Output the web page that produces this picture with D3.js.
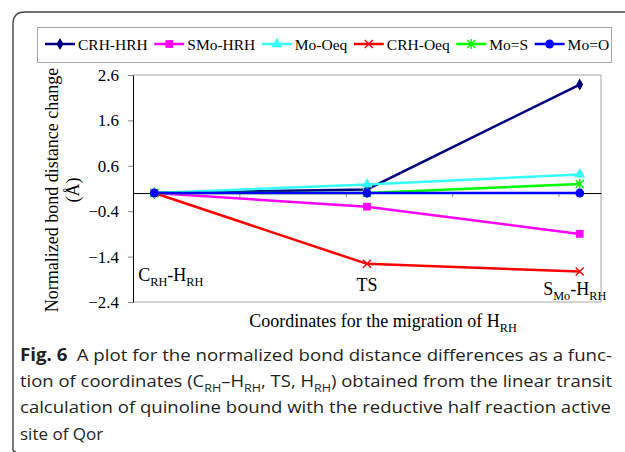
<!DOCTYPE html>
<head>
<meta charset="utf-8">
<style>
    body { margin: 0; background: #fff; }
    svg { display: block; }
    svg text.serif, svg .serif text { font-family: 'Liberation Serif', serif; fill: #000; }
    .caption { font-family: "Open Sans", "Noto Sans", sans-serif; fill: #231f20; }
    .line { fill: none; stroke-width: 2.5px; }
</style>
<title>Normalized bond distance change</title>
</head>
<body>
<script src="https://d3js.org/d3.v7.min.js"></script>
<script>
    // data, {..} marks a subscript
    const categories = ['C{RH}-H{RH}', 'TS', 'S{Mo}-H{RH}'];
    const seriesNames = ['CRH-HRH', 'SMo-HRH', 'Mo-Oeq', 'CRH-Oeq', 'Mo=S', 'Mo=O'];
    const seriesColors = ['#000080', '#ff00ff', '#33ffff', '#ff0000', '#00ff00', '#0000ff'];
    const seriesMarkers = ['diamond', 'square', 'triangle', 'x', 'star', 'circle'];
    const crhHrh = [0, 0.08, 2.39];
    const smoHrh = [0, -0.30, -0.90];
    const moOeq = [0, 0.19, 0.41];
    const crhOeq = [0, -1.56, -1.73];
    const moS = [0, 0.0, 0.20];
    const moO = [0, 0, 0];
    const yTicks = [2.6, 1.6, 0.6, -0.4, -1.4, -2.4];
    const yTitle = ['Normalized bond distance change', '(\u00c5)'];
    const xTitle = 'Coordinates for the migration of H{RH}';
    const captionLines = [
        '\u2002A plot for the normalized bond distance differences as a func-',
        'tion of coordinates (C{RH}\u2013H{RH}, TS, H{RH}) obtained from the linear transit',
        'calculation of quinoline bound with the reductive half reaction active',
        'site of Qor'
    ];

    const seriesValues = [crhHrh, smoHrh, moOeq, crhOeq, moS, moO];

    const W = 625, H = 452;
    const plot = { left: 133, right: 601, top: 75, bottom: 302 };

    const svg = d3.select('body').append('svg')
        .attr('width', W)
        .attr('height', H);

    // writes "a{sub}b" into a text selection as tspans
    function richText(sel, str, size) {
        const parts = str.split(/(\{[^}]*\})/).filter(p => p.length);
        let shifted = false;
        parts.forEach(p => {
            const isSub = p[0] === '{';
            const t = sel.append('tspan').text(isSub ? p.slice(1, -1) : p);
            if (isSub && !shifted) { t.attr('dy', size * 0.3); shifted = true; }
            if (!isSub && shifted) { t.attr('dy', -size * 0.3); shifted = false; }
            if (isSub) t.attr('font-size', size * 0.68);
        });
    }

    // outer frame of the figure box
    svg.append('path')
        .attr('d', 'M13,449 Q13,452 16,452 M13,449 L13,24 Q13,12 25,12 L640,12')
        .attr('fill', 'none')
        .attr('stroke', '#444')
        .attr('stroke-width', 1.4);

    const x = d3.scalePoint().domain(categories).range([plot.left, plot.right]).padding(0.1);
    const xMinor = d3.scaleLinear().domain([0, 4.4]).range([plot.left, plot.right]);
    const y = d3.scaleLinear().domain([-2.4, 2.6]).range([plot.bottom, plot.top]);

    // plot frame (grey) on top, right, bottom
    svg.append('path')
        .attr('d', `M${plot.left},${plot.top}H${plot.right}V${plot.bottom}H${plot.left}`)
        .attr('fill', 'none')
        .attr('stroke', '#a6a6a6')
        .attr('stroke-width', 1);

    // y axis
    const yAxis = svg.append('g')
        .attr('class', 'serif')
        .attr('transform', `translate(${plot.left},0)`)
        .call(d3.axisLeft(y).tickValues(yTicks).tickSize(5).tickPadding(9).tickSizeOuter(0)
            .tickFormat(d3.format('.1f')));
    yAxis.attr('font-family', 'Liberation Serif').attr('font-size', 17);
    yAxis.select('.domain').attr('stroke', '#000');
    yAxis.selectAll('.tick line').attr('stroke', '#888');
    yAxis.selectAll('.tick text').attr('fill', '#000');

    // zero line with minor ticks
    const xAxis = svg.append('g')
        .attr('transform', `translate(0,${y(0)})`)
        .call(d3.axisBottom(xMinor).tickValues(d3.range(1, 5)).tickSize(4).tickSizeOuter(0).tickFormat(''));
    xAxis.select('.domain').attr('stroke', '#000');
    xAxis.selectAll('.tick line').attr('stroke', '#888');
    xAxis.selectAll('.tick text').remove();

    // markers
    function drawMarker(g, type, color, cx, cy) {
        const s = {
            diamond: d3.symbolDiamond, square: d3.symbolSquare,
            triangle: d3.symbolTriangle, circle: d3.symbolCircle
        };
        if (s[type]) {
            const size = { diamond: 42, square: 60, triangle: 52, circle: 62 }[type];
            g.append('path')
                .attr('transform', `translate(${cx},${cy})`)
                .attr('d', d3.symbol().type(s[type]).size(size)())
                .attr('fill', color);
        } else {
            const r = 4;
            let d = `M${-r},${-r}L${r},${r}M${-r},${r}L${r},${-r}`;
            if (type === 'star') d += `M0,${-r - 1}L0,${r + 1}`;
            g.append('path')
                .attr('transform', `translate(${cx},${cy})`)
                .attr('d', d)
                .attr('stroke', color)
                .attr('stroke-width', 1.4)
                .attr('fill', 'none');
        }
    }

    const line = d3.line()
        .x((d, i) => x(categories[i]))
        .y(d => y(d));

    seriesValues.forEach((vals, si) => {
        const g = svg.append('g');
        g.append('path')
            .datum(vals)
            .attr('class', 'line')
            .attr('stroke', seriesColors[si])
            .attr('d', line);
        vals.forEach((v, i) => drawMarker(g, seriesMarkers[si], seriesColors[si], x(categories[i]), y(v)));
    });

    // category labels
    const catPlace = [
        { dx: -16, y: 281, anchor: 'start' },
        { dx: 0, y: 291, anchor: 'middle' },
        { dx: -5, y: 295, anchor: 'middle' }
    ];
    categories.forEach((c, i) => {
        const t = svg.append('text')
            .attr('class', 'serif')
            .attr('x', x(c) + catPlace[i].dx)
            .attr('y', catPlace[i].y)
            .attr('font-size', 18)
            .attr('text-anchor', catPlace[i].anchor);
        richText(t, c, 18);
    });

    // axis titles
    const xt = svg.append('text')
        .attr('class', 'serif')
        .attr('x', 383)
        .attr('y', 327)
        .attr('font-size', 18)
        .attr('text-anchor', 'middle');
    richText(xt, xTitle, 18);

    yTitle.forEach((t, i) => {
        svg.append('text')
            .attr('class', 'serif')
            .attr('transform', `translate(${58 + i * 21},190) rotate(-90)`)
            .attr('font-size', 18)
            .attr('text-anchor', 'middle')
            .text(t);
    });

    // legend
    svg.append('rect')
        .attr('x', 37.5).attr('y', 27.5)
        .attr('width', 574).attr('height', 35)
        .attr('fill', 'none')
        .attr('stroke', '#a6a6a6');
    let lx = 45;
    const ly = 44;
    seriesNames.forEach((name, si) => {
        const g = svg.append('g');
        g.append('line')
            .attr('x1', lx).attr('x2', lx + 30)
            .attr('y1', ly).attr('y2', ly)
            .attr('stroke', seriesColors[si])
            .attr('stroke-width', 2.5);
        drawMarker(g, seriesMarkers[si], seriesColors[si], lx + 15, ly);
        const t = g.append('text')
            .attr('class', 'serif')
            .attr('x', lx + 33)
            .attr('y', ly + 5.5)
            .attr('font-size', 15.5)
            .text(name);
        lx += 33 + t.node().getComputedTextLength() + 6.5;
    });

    // caption
    const capY = [361, 387, 413, 440];
    const capW = [592, 592, 591, null];
    captionLines.forEach((c, i) => {
        const t = svg.append('text')
            .attr('class', 'caption')
            .attr('x', 20)
            .attr('y', capY[i])
            .attr('font-size', 17);
        if (i === 0) t.append('tspan').attr('font-weight', 'bold').text('Fig. 6');
        richText(t, c, 17);
        if (capW[i]) t.attr('textLength', capW[i]).attr('lengthAdjust', 'spacingAndGlyphs');
    });
</script>
</body>
